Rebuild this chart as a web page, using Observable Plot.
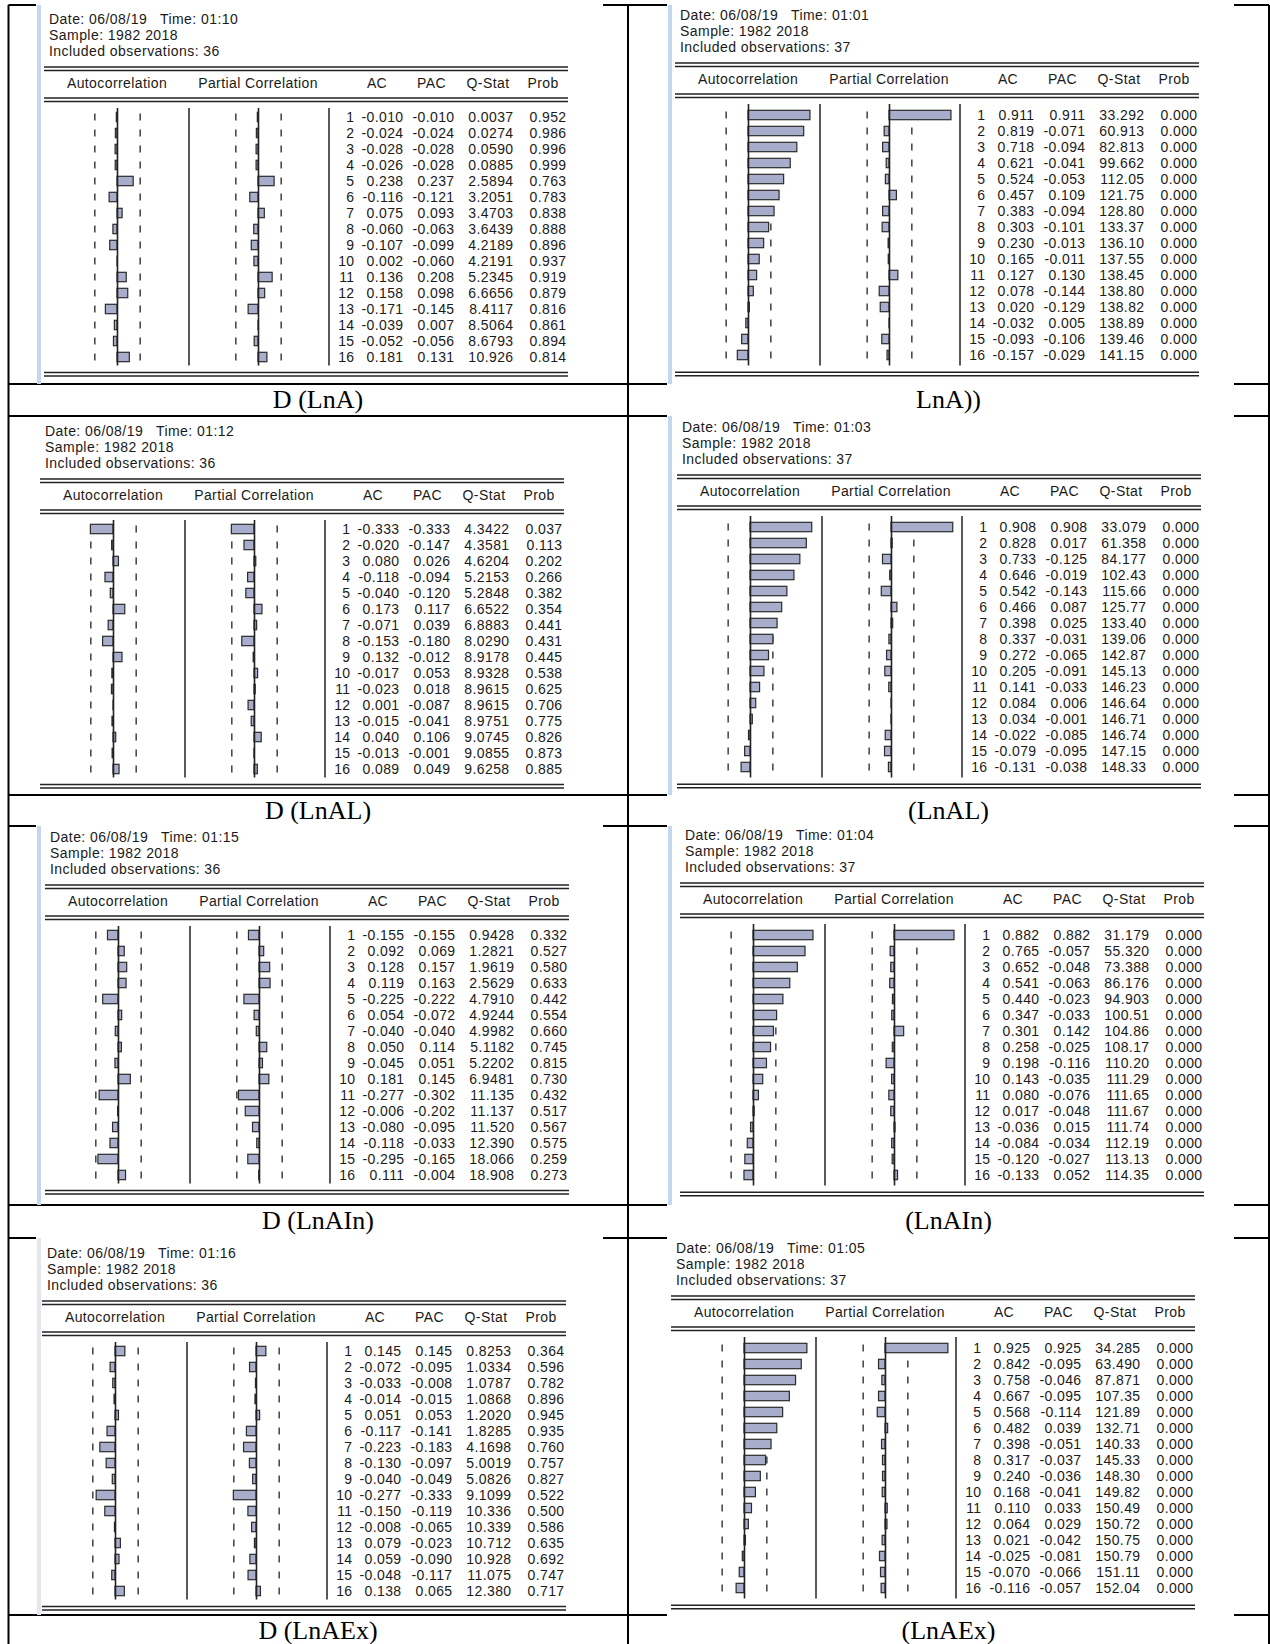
<!DOCTYPE html>
<html>
<head>
<meta charset="utf-8">
<script src="https://cdn.jsdelivr.net/npm/d3@7"></script>
<script src="https://cdn.jsdelivr.net/npm/@observablehq/plot@0.6"></script>
<style>
  body { margin: 0; background: #fff; }
  #root { position: relative; width: 1270px; height: 1644px; overflow: hidden; background: #fff; }
  #root svg.plotpart { position: absolute; }
</style>
</head>
<body>
<div id="root"></div>
<script>
// ---------------- DATA ----------------
const lags = [1, 2, 3, 4, 5, 6, 7, 8, 9, 10, 11, 12, 13, 14, 15, 16];

const captions = ["D (LnA)", "LnA))", "D (LnAL)", "(LnAL)", "D (LnAIn)", "(LnAIn)", "D (LnAEx)", "(LnAEx)"];
const times = ["01:10", "01:01", "01:12", "01:03", "01:15", "01:04", "01:16", "01:05"];
const observations = [36, 37, 36, 37, 36, 37, 36, 37];
const colHeaders = ["Autocorrelation", "Partial Correlation", "AC", "PAC", "Q-Stat", "Prob"];

// D (LnA)
const dLnA_ac   = [-0.010, -0.024, -0.028, -0.026, 0.238, -0.116, 0.075, -0.060, -0.107, 0.002, 0.136, 0.158, -0.171, -0.039, -0.052, 0.181];
const dLnA_pac  = [-0.010, -0.024, -0.028, -0.028, 0.237, -0.121, 0.093, -0.063, -0.099, -0.060, 0.208, 0.098, -0.145, 0.007, -0.056, 0.131];
const dLnA_q    = [0.0037, 0.0274, 0.0590, 0.0885, 2.5894, 3.2051, 3.4703, 3.6439, 4.2189, 4.2191, 5.2345, 6.6656, 8.4117, 8.5064, 8.6793, 10.926];
const dLnA_prob = [0.952, 0.986, 0.996, 0.999, 0.763, 0.783, 0.838, 0.888, 0.896, 0.937, 0.919, 0.879, 0.816, 0.861, 0.894, 0.814];

// LnA
const lnA_ac   = [0.911, 0.819, 0.718, 0.621, 0.524, 0.457, 0.383, 0.303, 0.230, 0.165, 0.127, 0.078, 0.020, -0.032, -0.093, -0.157];
const lnA_pac  = [0.911, -0.071, -0.094, -0.041, -0.053, 0.109, -0.094, -0.101, -0.013, -0.011, 0.130, -0.144, -0.129, 0.005, -0.106, -0.029];
const lnA_q    = [33.292, 60.913, 82.813, 99.662, 112.05, 121.75, 128.80, 133.37, 136.10, 137.55, 138.45, 138.80, 138.82, 138.89, 139.46, 141.15];
const lnA_prob = [0, 0, 0, 0, 0, 0, 0, 0, 0, 0, 0, 0, 0, 0, 0, 0];

// D (LnAL)
const dLnAL_ac   = [-0.333, -0.020, 0.080, -0.118, -0.040, 0.173, -0.071, -0.153, 0.132, -0.017, -0.023, 0.001, -0.015, 0.040, -0.013, 0.089];
const dLnAL_pac  = [-0.333, -0.147, 0.026, -0.094, -0.120, 0.117, 0.039, -0.180, -0.012, 0.053, 0.018, -0.087, -0.041, 0.106, -0.001, 0.049];
const dLnAL_q    = [4.3422, 4.3581, 4.6204, 5.2153, 5.2848, 6.6522, 6.8883, 8.0290, 8.9178, 8.9328, 8.9615, 8.9615, 8.9751, 9.0745, 9.0855, 9.6258];
const dLnAL_prob = [0.037, 0.113, 0.202, 0.266, 0.382, 0.354, 0.441, 0.431, 0.445, 0.538, 0.625, 0.706, 0.775, 0.826, 0.873, 0.885];

// LnAL
const lnAL_ac   = [0.908, 0.828, 0.733, 0.646, 0.542, 0.466, 0.398, 0.337, 0.272, 0.205, 0.141, 0.084, 0.034, -0.022, -0.079, -0.131];
const lnAL_pac  = [0.908, 0.017, -0.125, -0.019, -0.143, 0.087, 0.025, -0.031, -0.065, -0.091, -0.033, 0.006, -0.001, -0.085, -0.095, -0.038];
const lnAL_q    = [33.079, 61.358, 84.177, 102.43, 115.66, 125.77, 133.40, 139.06, 142.87, 145.13, 146.23, 146.64, 146.71, 146.74, 147.15, 148.33];
const lnAL_prob = [0, 0, 0, 0, 0, 0, 0, 0, 0, 0, 0, 0, 0, 0, 0, 0];

// D (LnAIn)
const dLnAIn_ac   = [-0.155, 0.092, 0.128, 0.119, -0.225, 0.054, -0.040, 0.050, -0.045, 0.181, -0.277, -0.006, -0.080, -0.118, -0.295, 0.111];
const dLnAIn_pac  = [-0.155, 0.069, 0.157, 0.163, -0.222, -0.072, -0.040, 0.114, 0.051, 0.145, -0.302, -0.202, -0.095, -0.033, -0.165, -0.004];
const dLnAIn_q    = [0.9428, 1.2821, 1.9619, 2.5629, 4.7910, 4.9244, 4.9982, 5.1182, 5.2202, 6.9481, 11.135, 11.137, 11.520, 12.390, 18.066, 18.908];
const dLnAIn_prob = [0.332, 0.527, 0.580, 0.633, 0.442, 0.554, 0.660, 0.745, 0.815, 0.730, 0.432, 0.517, 0.567, 0.575, 0.259, 0.273];

// LnAIn
const lnAIn_ac   = [0.882, 0.765, 0.652, 0.541, 0.440, 0.347, 0.301, 0.258, 0.198, 0.143, 0.080, 0.017, -0.036, -0.084, -0.120, -0.133];
const lnAIn_pac  = [0.882, -0.057, -0.048, -0.063, -0.023, -0.033, 0.142, -0.025, -0.116, -0.035, -0.076, -0.048, 0.015, -0.034, -0.027, 0.052];
const lnAIn_q    = [31.179, 55.320, 73.388, 86.176, 94.903, 100.51, 104.86, 108.17, 110.20, 111.29, 111.65, 111.67, 111.74, 112.19, 113.13, 114.35];
const lnAIn_prob = [0, 0, 0, 0, 0, 0, 0, 0, 0, 0, 0, 0, 0, 0, 0, 0];

// D (LnAEx)
const dLnAEx_ac   = [0.145, -0.072, -0.033, -0.014, 0.051, -0.117, -0.223, -0.130, -0.040, -0.277, -0.150, -0.008, 0.079, 0.059, -0.048, 0.138];
const dLnAEx_pac  = [0.145, -0.095, -0.008, -0.015, 0.053, -0.141, -0.183, -0.097, -0.049, -0.333, -0.119, -0.065, -0.023, -0.090, -0.117, 0.065];
const dLnAEx_q    = [0.8253, 1.0334, 1.0787, 1.0868, 1.2020, 1.8285, 4.1698, 5.0019, 5.0826, 9.1099, 10.336, 10.339, 10.712, 10.928, 11.075, 12.380];
const dLnAEx_prob = [0.364, 0.596, 0.782, 0.896, 0.945, 0.935, 0.760, 0.757, 0.827, 0.522, 0.500, 0.586, 0.635, 0.692, 0.747, 0.717];

// LnAEx
const lnAEx_ac   = [0.925, 0.842, 0.758, 0.667, 0.568, 0.482, 0.398, 0.317, 0.240, 0.168, 0.110, 0.064, 0.021, -0.025, -0.070, -0.116];
const lnAEx_pac  = [0.925, -0.095, -0.046, -0.095, -0.114, 0.039, -0.051, -0.037, -0.036, -0.041, 0.033, 0.029, -0.042, -0.081, -0.066, -0.057];
const lnAEx_q    = [34.285, 63.490, 87.871, 107.35, 121.89, 132.71, 140.33, 145.33, 148.30, 149.82, 150.49, 150.72, 150.75, 150.79, 151.11, 152.04];
const lnAEx_prob = [0, 0, 0, 0, 0, 0, 0, 0, 0, 0, 0, 0, 0, 0, 0, 0];

const acSeries   = [dLnA_ac, lnA_ac, dLnAL_ac, lnAL_ac, dLnAIn_ac, lnAIn_ac, dLnAEx_ac, lnAEx_ac];
const pacSeries  = [dLnA_pac, lnA_pac, dLnAL_pac, lnAL_pac, dLnAIn_pac, lnAIn_pac, dLnAEx_pac, lnAEx_pac];
const qSeries    = [dLnA_q, lnA_q, dLnAL_q, lnAL_q, dLnAIn_q, lnAIn_q, dLnAEx_q, lnAEx_q];
const probSeries = [dLnA_prob, lnA_prob, dLnAL_prob, lnAL_prob, dLnAIn_prob, lnAIn_prob, dLnAEx_prob, lnAEx_prob];

// ---------------- LAYOUT / STYLE ----------------
const W = 1270, H = 1644;
const SANS = "'Liberation Sans', Arial, Helvetica, sans-serif";
const SERIF = "'Liberation Serif', 'Times New Roman', serif";
const INK = "#1a1a1a";
const BAR_FILL = "#a7adcb";
const STRIPE = "#c4d7ee";
const PX_PER_UNIT = 68;

const tableX = [8.5, 628, 1269];
const rowTops = [5, 416, 826, 1238];
const rowBottoms = [384, 795, 1205, 1615];
const captionCenters = [318, 948.5];

// anchor: ax = x of AC zero line, ay = y of the top double rule
const layout = [
  {ax: 117, ay: 67,   pitch: 16.1,  col: 0, row: 0, stripe: STRIPE,   cover: "top"},
  {ax: 748, ay: 63,   pitch: 16.35, col: 1, row: 0, stripe: STRIPE,   cover: "both"},
  {ax: 113, ay: 479,  pitch: 16.1,  col: 0, row: 1, stripe: null,     cover: null},
  {ax: 750, ay: 475,  pitch: 16.35, col: 1, row: 1, stripe: STRIPE,   cover: "both"},
  {ax: 118, ay: 885,  pitch: 16.1,  col: 0, row: 2, stripe: STRIPE,   cover: "top"},
  {ax: 753, ay: 883,  pitch: 16.35, col: 1, row: 2, stripe: STRIPE,   cover: "both"},
  {ax: 115, ay: 1301, pitch: 16.1,  col: 0, row: 3, stripe: "#e3e7ee", cover: "top"},
  {ax: 744, ay: 1296, pitch: 16.35, col: 1, row: 3, stripe: null,     cover: "both"}
];

// ---------------- DRAW ----------------
const root = document.getElementById("root");
const decor = d3.select(root).append("svg")
  .attr("width", W).attr("height", H)
  .style("position", "absolute").style("left", "0px").style("top", "0px");

function hline(x1, x2, y, w = 1.3, c = "#222") {
  decor.append("line").attr("x1", x1).attr("x2", x2).attr("y1", y).attr("y2", y)
    .attr("stroke", c).attr("stroke-width", w);
}
function vline(x, y1, y2, w = 1.5, c = "#222") {
  decor.append("line").attr("x1", x).attr("x2", x).attr("y1", y1).attr("y2", y2)
    .attr("stroke", c).attr("stroke-width", w);
}
function label(x, y, str, opts = {}) {
  decor.append("text").attr("x", x).attr("y", y)
    .attr("text-anchor", opts.anchor || "start")
    .style("font-family", opts.family || SANS)
    .style("font-size", (opts.size || 14) + "px")
    .style("letter-spacing", opts.ls || "0px")
    .style("white-space", "pre")
    .attr("fill", opts.fill || INK)
    .text(str);
}

// outer table
tableX.forEach(x => vline(x, 5, H, 2, "#000"));
rowTops.concat(rowBottoms).forEach(y => hline(tableX[0], tableX[2], y, 2, "#000"));

// captions
captions.forEach((c, i) => {
  const L = layout[i];
  label(captionCenters[L.col], rowBottoms[L.row] + 24, c, {anchor: "middle", family: SERIF, size: 26, fill: "#000"});
});

const fmtQ = v => v < 10 ? v.toFixed(4) : v < 100 ? v.toFixed(3) : v.toFixed(2);
const fmtC = v => v.toFixed(3);
const textCols = ["lag", "AC", "PAC", "Q", "Prob"];
const colDx = {lag: 0, AC: -4, PAC: -6, Q: 0, Prob: 0};

layout.forEach((L, i) => {
  const {ax, ay, pitch} = L;
  const top = rowTops[L.row], bottom = rowBottoms[L.row];
  const left = L.col === 0 ? 36 : 667;
  const right = L.col === 0 ? 603 : 1234;

  // picture background covering table rules
  if (L.cover) {
    decor.append("rect").attr("x", left).attr("y", top - 2).attr("width", right - left)
      .attr("height", L.cover === "both" ? bottom - top + 4 : 4).attr("fill", "#fff");
  }
  if (L.stripe) {
    decor.append("rect").attr("x", left + 1).attr("y", top).attr("width", 4)
      .attr("height", bottom - top).attr("fill", L.stripe);
  }

  // header block
  label(ax - 68, ay - 43, "Date: 06/08/19   Time: " + times[i], {ls: "0.45px"});
  label(ax - 68, ay - 27, "Sample: 1982 2018", {ls: "0.45px"});
  label(ax - 68, ay - 11, "Included observations: " + observations[i], {ls: "0.45px"});

  const rx1 = ax - 73, rx2 = ax + 451;
  hline(rx1, rx2, ay); hline(rx1, rx2, ay + 3.5);
  const hx = [ax, ax + 141, ax + 260, ax + 314.5, ax + 371, ax + 426];
  colHeaders.forEach((h, k) => label(hx[k], ay + 21, h, {anchor: "middle", ls: "0.4px"}));
  hline(rx1, rx2, ay + 31); hline(rx1, rx2, ay + 34.5);

  const row1Base = ay + 54;
  const bodyTop = row1Base - 13;
  const bodyH = 16 * pitch;
  const row16Base = row1Base + 15 * pitch;
  hline(rx1, rx2, row16Base + 10); hline(rx1, rx2, row16Base + 13.5);

  // column separators
  vline(ax + 72, bodyTop, bodyTop + bodyH, 1.5);
  vline(ax + 212, bodyTop, bodyTop + bodyH, 1.5);

  const bound = 2 / Math.sqrt(observations[i]);
  const yScale = {type: "band", domain: lags, range: [0, bodyH], padding: 0, axis: null};
  const plotStyle = {background: "transparent", overflow: "visible"};

  function corrPlot(values, width, zero, leftX) {
    const rows = lags.map((l, k) => ({lag: l, v: values[k]}));
    const dashes = lags.flatMap(l => [{lag: l, b: -bound}, {lag: l, b: bound}]);
    const p = Plot.plot({
      width, height: bodyH,
      marginTop: 0, marginBottom: 0, marginLeft: 0, marginRight: 0,
      x: {domain: [-1, 1], range: [zero - PX_PER_UNIT, zero + PX_PER_UNIT], axis: null},
      y: yScale,
      style: plotStyle,
      marks: [
        Plot.tickX(dashes, {x: "b", y: "lag", stroke: "#222", strokeWidth: 1.3, insetTop: 4.5, insetBottom: 4.5}),
        Plot.barX(rows, {x1: d => 0, x2: "v", y: "lag", fill: BAR_FILL, stroke: "#2b2b2b", strokeWidth: 1.2, insetTop: 3.3, insetBottom: 3.3}),
        Plot.ruleX([0], {stroke: "#222", strokeWidth: 1.6})
      ]
    });
    p.classList.add("plotpart");
    p.style.left = leftX + "px";
    p.style.top = bodyTop + "px";
    root.appendChild(p);
  }
  corrPlot(acSeries[i], 145, 73, ax - 73);
  corrPlot(pacSeries[i], 140, 69, ax + 72);

  // numeric table
  const cells = lags.flatMap((l, k) => [
    {lag: l, col: "lag", t: String(l)},
    {lag: l, col: "AC", t: fmtC(acSeries[i][k])},
    {lag: l, col: "PAC", t: fmtC(pacSeries[i][k])},
    {lag: l, col: "Q", t: fmtQ(qSeries[i][k])},
    {lag: l, col: "Prob", t: fmtC(probSeries[i][k])}
  ]);
  const tp = Plot.plot({
    width: 245, height: bodyH,
    marginTop: 0, marginBottom: 0, marginLeft: 0, marginRight: 0,
    x: {type: "point", domain: textCols, range: [25, 237], padding: 0, axis: null},
    y: yScale,
    style: {background: "transparent", overflow: "visible", letterSpacing: "0.4px"},
    marks: textCols.map(c => Plot.text(cells.filter(d => d.col === c), {
      x: "col", y: "lag", text: "t", textAnchor: "end", dx: colDx[c],
      fill: INK, fontSize: 14, fontFamily: SANS
    }))
  });
  tp.classList.add("plotpart");
  tp.style.left = (ax + 212) + "px";
  tp.style.top = bodyTop + "px";
  root.appendChild(tp);
});
</script>
</body>
</html>
